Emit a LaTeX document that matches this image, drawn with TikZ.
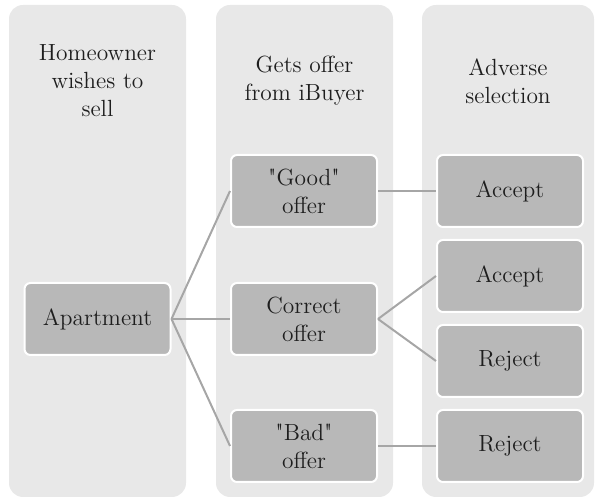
\documentclass[tikz,border=0pt]{standalone}
\usepackage{tikz}
\definecolor{lanegray}{HTML}{E8E8E8}
\definecolor{boxgray}{HTML}{B8B8B8}
\definecolor{linkgray}{HTML}{A6A6A6}
\definecolor{textgray}{HTML}{1E1E1E}

\begin{document}
\begin{tikzpicture}[x=0.5pt,y=-0.5pt,
        lane/.style={fill=lanegray, rounded corners=7pt},
        box/.style={draw=white, line width=1pt, fill=boxgray, rounded corners=3pt,
            minimum width=73pt, minimum height=36pt, inner sep=0pt,
            align=center, text=textgray, font=\fontsize{11.7}{14}\selectfont},
        head/.style={align=center, text=textgray, font=\fontsize{11.7}{14}\selectfont},
        link/.style={draw=linkgray, line width=1pt}]
        \useasboundingbox (0,0) rectangle (596,501);

        \fill[lane] (9,5) rectangle (186,497);
        \fill[lane] (216,5) rectangle (393,497);
        \fill[lane] (422,5) rectangle (594,497);

        \node[head] (h1) at (97.5,81) {Homeowner\\wishes to\\sell};
        \node[head] (h2) at (304.5,81) {Gets offer\\from iBuyer};
        \node[head] (h3) at (508,81) {Adverse\\selection};

        \node[box] (apt) at (97.5,319) {Apartment};
        \node[box] (good) at (304,191) {\textquotedbl Good\textquotedbl\\offer};
        \node[box] (correct) at (304,319) {Correct\\offer};
        \node[box] (bad) at (304,446) {\textquotedbl Bad\textquotedbl\\offer};
        \node[box] (acc1) at (510,191) {Accept};
        \node[box] (acc2) at (510,276) {Accept};
        \node[box] (rej1) at (510,361) {Reject};
        \node[box] (rej2) at (510,446) {Reject};

        \draw[link] (apt.east) -- (good.west);
        \draw[link] (apt.east) -- (correct.west);
        \draw[link] (apt.east) -- (bad.west);
        \draw[link] (good.east) -- (acc1.west);
        \draw[link] (correct.east) -- (acc2.west);
        \draw[link] (correct.east) -- (rej1.west);
        \draw[link] (bad.east) -- (rej2.west);
\end{tikzpicture}
\end{document}
